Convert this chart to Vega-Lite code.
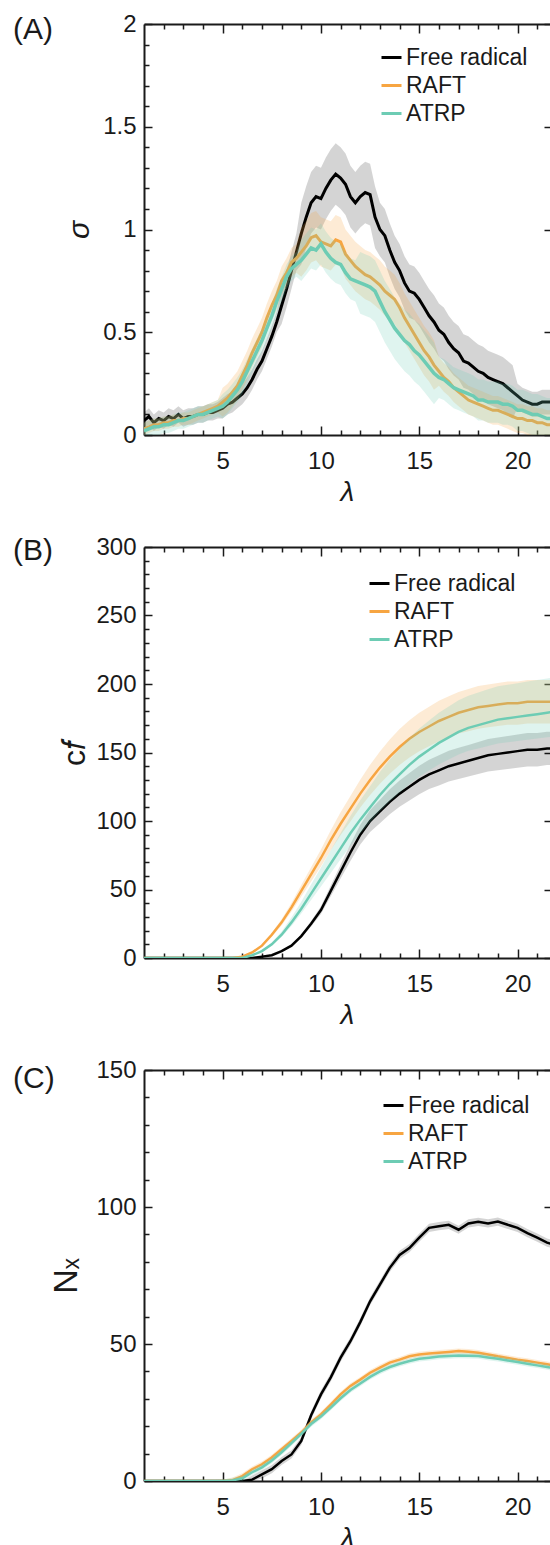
{
"$schema":"https://vega.github.io/schema/vega-lite/v6.json",
"autosize":{"type":"none"},
"padding":{"left":144,"top":24,"right":406,"bottom":1521},
"background":"white",
"spacing":112,
"bounds":"flush",
"config":{"view":{"stroke":null},"axis":{"grid":false},"font":"Liberation Sans"},
"resolve":{"scale":{"color":"independent"},"legend":{"color":"independent"}},
"datasets":{
"A":[
{"x":1,"f":0.07,"flo":0.03,"fhi":0.11,"r":0.03,"rlo":0,"rhi":0.06,"a":0.02,"alo":0,"ahi":0.06},
{"x":1.25,"f":0.09,"flo":0.05,"fhi":0.13,"r":0.04,"rlo":0.01,"rhi":0.07,"a":0.03,"alo":0,"ahi":0.07},
{"x":1.5,"f":0.06,"flo":0.02,"fhi":0.1,"r":0.05,"rlo":0.02,"rhi":0.08,"a":0.04,"alo":0,"ahi":0.08},
{"x":1.75,"f":0.08,"flo":0.04,"fhi":0.12,"r":0.05,"rlo":0.02,"rhi":0.08,"a":0.04,"alo":0,"ahi":0.08},
{"x":2,"f":0.07,"flo":0.03,"fhi":0.11,"r":0.06,"rlo":0.03,"rhi":0.09,"a":0.05,"alo":0.01,"ahi":0.09},
{"x":2.25,"f":0.09,"flo":0.05,"fhi":0.13,"r":0.06,"rlo":0.03,"rhi":0.09,"a":0.05,"alo":0.01,"ahi":0.09},
{"x":2.5,"f":0.08,"flo":0.04,"fhi":0.12,"r":0.07,"rlo":0.04,"rhi":0.1,"a":0.06,"alo":0.02,"ahi":0.1},
{"x":2.75,"f":0.1,"flo":0.06,"fhi":0.14,"r":0.07,"rlo":0.04,"rhi":0.1,"a":0.07,"alo":0.03,"ahi":0.11},
{"x":3,"f":0.08,"flo":0.04,"fhi":0.12,"r":0.08,"rlo":0.05,"rhi":0.11,"a":0.07,"alo":0.03,"ahi":0.11},
{"x":3.25,"f":0.09,"flo":0.05,"fhi":0.13,"r":0.08,"rlo":0.05,"rhi":0.11,"a":0.08,"alo":0.04,"ahi":0.12},
{"x":3.5,"f":0.09,"flo":0.05,"fhi":0.13,"r":0.09,"rlo":0.06,"rhi":0.12,"a":0.09,"alo":0.05,"ahi":0.13},
{"x":3.75,"f":0.1,"flo":0.06,"fhi":0.14,"r":0.1,"rlo":0.07,"rhi":0.13,"a":0.1,"alo":0.06,"ahi":0.14},
{"x":4,"f":0.1,"flo":0.06,"fhi":0.14,"r":0.11,"rlo":0.08,"rhi":0.14,"a":0.1,"alo":0.06,"ahi":0.14},
{"x":4.25,"f":0.11,"flo":0.07,"fhi":0.15,"r":0.12,"rlo":0.09,"rhi":0.15,"a":0.11,"alo":0.07,"ahi":0.15},
{"x":4.5,"f":0.11,"flo":0.07,"fhi":0.15,"r":0.13,"rlo":0.1,"rhi":0.16,"a":0.12,"alo":0.08,"ahi":0.16},
{"x":4.75,"f":0.12,"flo":0.08,"fhi":0.16,"r":0.14,"rlo":0.11,"rhi":0.17,"a":0.13,"alo":0.09,"ahi":0.17},
{"x":5,"f":0.13,"flo":0.08,"fhi":0.18,"r":0.16,"rlo":0.09,"rhi":0.23,"a":0.14,"alo":0.08,"ahi":0.2},
{"x":5.25,"f":0.15,"flo":0.1,"fhi":0.2,"r":0.18,"rlo":0.11,"rhi":0.25,"a":0.16,"alo":0.1,"ahi":0.22},
{"x":5.5,"f":0.16,"flo":0.11,"fhi":0.21,"r":0.21,"rlo":0.14,"rhi":0.28,"a":0.19,"alo":0.13,"ahi":0.25},
{"x":5.75,"f":0.18,"flo":0.13,"fhi":0.23,"r":0.24,"rlo":0.17,"rhi":0.31,"a":0.22,"alo":0.16,"ahi":0.28},
{"x":6,"f":0.2,"flo":0.15,"fhi":0.25,"r":0.29,"rlo":0.22,"rhi":0.36,"a":0.26,"alo":0.2,"ahi":0.32},
{"x":6.25,"f":0.23,"flo":0.18,"fhi":0.28,"r":0.34,"rlo":0.27,"rhi":0.41,"a":0.31,"alo":0.25,"ahi":0.37},
{"x":6.5,"f":0.27,"flo":0.22,"fhi":0.32,"r":0.4,"rlo":0.33,"rhi":0.47,"a":0.36,"alo":0.3,"ahi":0.42},
{"x":6.75,"f":0.32,"flo":0.27,"fhi":0.37,"r":0.45,"rlo":0.38,"rhi":0.52,"a":0.41,"alo":0.35,"ahi":0.47},
{"x":7,"f":0.36,"flo":0.31,"fhi":0.41,"r":0.5,"rlo":0.43,"rhi":0.57,"a":0.46,"alo":0.4,"ahi":0.52},
{"x":7.25,"f":0.42,"flo":0.37,"fhi":0.47,"r":0.57,"rlo":0.5,"rhi":0.64,"a":0.52,"alo":0.46,"ahi":0.58},
{"x":7.5,"f":0.48,"flo":0.43,"fhi":0.53,"r":0.63,"rlo":0.56,"rhi":0.7,"a":0.58,"alo":0.52,"ahi":0.64},
{"x":7.75,"f":0.55,"flo":0.5,"fhi":0.6,"r":0.68,"rlo":0.61,"rhi":0.75,"a":0.65,"alo":0.59,"ahi":0.71},
{"x":8,"f":0.63,"flo":0.54,"fhi":0.72,"r":0.75,"rlo":0.68,"rhi":0.82,"a":0.71,"alo":0.65,"ahi":0.77},
{"x":8.25,"f":0.71,"flo":0.62,"fhi":0.8,"r":0.79,"rlo":0.72,"rhi":0.86,"a":0.77,"alo":0.71,"ahi":0.83},
{"x":8.5,"f":0.8,"flo":0.71,"fhi":0.89,"r":0.84,"rlo":0.77,"rhi":0.91,"a":0.81,"alo":0.75,"ahi":0.87},
{"x":8.75,"f":0.89,"flo":0.8,"fhi":0.98,"r":0.86,"rlo":0.79,"rhi":0.93,"a":0.83,"alo":0.77,"ahi":0.89},
{"x":9,"f":0.98,"flo":0.83,"fhi":1.13,"r":0.89,"rlo":0.77,"rhi":1.01,"a":0.85,"alo":0.75,"ahi":0.95},
{"x":9.25,"f":1.06,"flo":0.91,"fhi":1.21,"r":0.92,"rlo":0.8,"rhi":1.04,"a":0.88,"alo":0.78,"ahi":0.98},
{"x":9.5,"f":1.13,"flo":0.98,"fhi":1.28,"r":0.96,"rlo":0.84,"rhi":1.08,"a":0.91,"alo":0.81,"ahi":1.01},
{"x":9.75,"f":1.16,"flo":1.01,"fhi":1.31,"r":0.97,"rlo":0.85,"rhi":1.09,"a":0.9,"alo":0.8,"ahi":1},
{"x":10,"f":1.15,"flo":1,"fhi":1.3,"r":0.94,"rlo":0.82,"rhi":1.06,"a":0.93,"alo":0.83,"ahi":1.03},
{"x":10.25,"f":1.2,"flo":1.05,"fhi":1.35,"r":0.93,"rlo":0.81,"rhi":1.05,"a":0.89,"alo":0.79,"ahi":0.99},
{"x":10.5,"f":1.24,"flo":1.09,"fhi":1.39,"r":0.92,"rlo":0.8,"rhi":1.04,"a":0.86,"alo":0.76,"ahi":0.96},
{"x":10.75,"f":1.27,"flo":1.12,"fhi":1.42,"r":0.95,"rlo":0.83,"rhi":1.07,"a":0.84,"alo":0.74,"ahi":0.94},
{"x":11,"f":1.25,"flo":1.1,"fhi":1.4,"r":0.94,"rlo":0.82,"rhi":1.06,"a":0.83,"alo":0.73,"ahi":0.93},
{"x":11.25,"f":1.22,"flo":1.07,"fhi":1.37,"r":0.88,"rlo":0.76,"rhi":1,"a":0.79,"alo":0.69,"ahi":0.89},
{"x":11.5,"f":1.16,"flo":1.01,"fhi":1.31,"r":0.85,"rlo":0.73,"rhi":0.97,"a":0.76,"alo":0.66,"ahi":0.86},
{"x":11.75,"f":1.13,"flo":0.98,"fhi":1.28,"r":0.82,"rlo":0.7,"rhi":0.94,"a":0.75,"alo":0.65,"ahi":0.85},
{"x":12,"f":1.16,"flo":1.01,"fhi":1.31,"r":0.8,"rlo":0.68,"rhi":0.92,"a":0.74,"alo":0.59,"ahi":0.89},
{"x":12.25,"f":1.18,"flo":1.03,"fhi":1.33,"r":0.78,"rlo":0.66,"rhi":0.9,"a":0.73,"alo":0.58,"ahi":0.88},
{"x":12.5,"f":1.17,"flo":1.02,"fhi":1.32,"r":0.77,"rlo":0.65,"rhi":0.89,"a":0.72,"alo":0.57,"ahi":0.87},
{"x":12.75,"f":1.06,"flo":0.91,"fhi":1.21,"r":0.75,"rlo":0.63,"rhi":0.87,"a":0.7,"alo":0.55,"ahi":0.85},
{"x":13,"f":1,"flo":0.87,"fhi":1.13,"r":0.73,"rlo":0.61,"rhi":0.85,"a":0.65,"alo":0.5,"ahi":0.8},
{"x":13.25,"f":0.97,"flo":0.84,"fhi":1.1,"r":0.7,"rlo":0.58,"rhi":0.82,"a":0.6,"alo":0.45,"ahi":0.75},
{"x":13.5,"f":0.9,"flo":0.77,"fhi":1.03,"r":0.68,"rlo":0.56,"rhi":0.8,"a":0.56,"alo":0.41,"ahi":0.71},
{"x":13.75,"f":0.84,"flo":0.71,"fhi":0.97,"r":0.66,"rlo":0.54,"rhi":0.78,"a":0.52,"alo":0.37,"ahi":0.67},
{"x":14,"f":0.8,"flo":0.67,"fhi":0.93,"r":0.62,"rlo":0.5,"rhi":0.74,"a":0.49,"alo":0.34,"ahi":0.64},
{"x":14.25,"f":0.74,"flo":0.61,"fhi":0.87,"r":0.57,"rlo":0.45,"rhi":0.69,"a":0.46,"alo":0.31,"ahi":0.61},
{"x":14.5,"f":0.7,"flo":0.57,"fhi":0.83,"r":0.53,"rlo":0.41,"rhi":0.65,"a":0.44,"alo":0.29,"ahi":0.59},
{"x":14.75,"f":0.69,"flo":0.56,"fhi":0.82,"r":0.49,"rlo":0.37,"rhi":0.61,"a":0.41,"alo":0.26,"ahi":0.56},
{"x":15,"f":0.66,"flo":0.53,"fhi":0.79,"r":0.45,"rlo":0.33,"rhi":0.57,"a":0.39,"alo":0.24,"ahi":0.54},
{"x":15.25,"f":0.62,"flo":0.49,"fhi":0.75,"r":0.41,"rlo":0.29,"rhi":0.53,"a":0.36,"alo":0.21,"ahi":0.51},
{"x":15.5,"f":0.58,"flo":0.45,"fhi":0.71,"r":0.38,"rlo":0.26,"rhi":0.5,"a":0.33,"alo":0.18,"ahi":0.48},
{"x":15.75,"f":0.55,"flo":0.42,"fhi":0.68,"r":0.34,"rlo":0.22,"rhi":0.46,"a":0.3,"alo":0.15,"ahi":0.45},
{"x":16,"f":0.51,"flo":0.38,"fhi":0.64,"r":0.31,"rlo":0.24,"rhi":0.38,"a":0.28,"alo":0.18,"ahi":0.38},
{"x":16.25,"f":0.49,"flo":0.36,"fhi":0.62,"r":0.28,"rlo":0.21,"rhi":0.35,"a":0.27,"alo":0.17,"ahi":0.37},
{"x":16.5,"f":0.45,"flo":0.32,"fhi":0.58,"r":0.26,"rlo":0.19,"rhi":0.33,"a":0.25,"alo":0.15,"ahi":0.35},
{"x":16.75,"f":0.42,"flo":0.29,"fhi":0.55,"r":0.23,"rlo":0.16,"rhi":0.3,"a":0.23,"alo":0.13,"ahi":0.33},
{"x":17,"f":0.4,"flo":0.27,"fhi":0.53,"r":0.21,"rlo":0.14,"rhi":0.28,"a":0.22,"alo":0.12,"ahi":0.32},
{"x":17.25,"f":0.36,"flo":0.23,"fhi":0.49,"r":0.19,"rlo":0.12,"rhi":0.26,"a":0.21,"alo":0.11,"ahi":0.31},
{"x":17.5,"f":0.35,"flo":0.22,"fhi":0.48,"r":0.17,"rlo":0.1,"rhi":0.24,"a":0.2,"alo":0.1,"ahi":0.3},
{"x":17.75,"f":0.33,"flo":0.2,"fhi":0.46,"r":0.16,"rlo":0.09,"rhi":0.23,"a":0.19,"alo":0.09,"ahi":0.29},
{"x":18,"f":0.31,"flo":0.18,"fhi":0.44,"r":0.15,"rlo":0.08,"rhi":0.22,"a":0.17,"alo":0.07,"ahi":0.27},
{"x":18.25,"f":0.3,"flo":0.17,"fhi":0.43,"r":0.14,"rlo":0.07,"rhi":0.21,"a":0.17,"alo":0.07,"ahi":0.27},
{"x":18.5,"f":0.28,"flo":0.15,"fhi":0.41,"r":0.13,"rlo":0.06,"rhi":0.2,"a":0.16,"alo":0.06,"ahi":0.26},
{"x":18.75,"f":0.27,"flo":0.14,"fhi":0.4,"r":0.12,"rlo":0.05,"rhi":0.19,"a":0.16,"alo":0.06,"ahi":0.26},
{"x":19,"f":0.26,"flo":0.13,"fhi":0.39,"r":0.12,"rlo":0.05,"rhi":0.19,"a":0.16,"alo":0.06,"ahi":0.26},
{"x":19.25,"f":0.25,"flo":0.12,"fhi":0.38,"r":0.11,"rlo":0.04,"rhi":0.18,"a":0.15,"alo":0.05,"ahi":0.25},
{"x":19.5,"f":0.23,"flo":0.1,"fhi":0.36,"r":0.1,"rlo":0.03,"rhi":0.17,"a":0.15,"alo":0.05,"ahi":0.25},
{"x":19.75,"f":0.21,"flo":0.08,"fhi":0.34,"r":0.09,"rlo":0.02,"rhi":0.16,"a":0.14,"alo":0.04,"ahi":0.24},
{"x":20,"f":0.19,"flo":0.13,"fhi":0.25,"r":0.08,"rlo":0.01,"rhi":0.15,"a":0.12,"alo":0.02,"ahi":0.22},
{"x":20.25,"f":0.17,"flo":0.11,"fhi":0.23,"r":0.08,"rlo":0.01,"rhi":0.15,"a":0.12,"alo":0.02,"ahi":0.22},
{"x":20.5,"f":0.16,"flo":0.1,"fhi":0.22,"r":0.07,"rlo":0,"rhi":0.14,"a":0.11,"alo":0.01,"ahi":0.21},
{"x":20.75,"f":0.15,"flo":0.09,"fhi":0.21,"r":0.07,"rlo":0,"rhi":0.14,"a":0.1,"alo":0,"ahi":0.2},
{"x":21,"f":0.15,"flo":0.09,"fhi":0.21,"r":0.06,"rlo":0,"rhi":0.13,"a":0.1,"alo":0,"ahi":0.2},
{"x":21.25,"f":0.16,"flo":0.1,"fhi":0.22,"r":0.06,"rlo":0,"rhi":0.13,"a":0.09,"alo":0,"ahi":0.19},
{"x":21.5,"f":0.16,"flo":0.1,"fhi":0.22,"r":0.05,"rlo":0,"rhi":0.12,"a":0.08,"alo":0,"ahi":0.18},
{"x":21.75,"f":0.16,"flo":0.1,"fhi":0.22,"r":0.05,"rlo":0,"rhi":0.12,"a":0.08,"alo":0,"ahi":0.18}
],
"B":[
{"x":1,"f":0,"flo":0,"fhi":0,"r":0,"rlo":0,"rhi":0,"a":0,"alo":0,"ahi":0},
{"x":3,"f":0,"flo":0,"fhi":0,"r":0,"rlo":0,"rhi":0,"a":0,"alo":0,"ahi":0},
{"x":5,"f":0,"flo":0,"fhi":0,"r":0,"rlo":0,"rhi":0,"a":0,"alo":0,"ahi":0},
{"x":5.5,"f":0,"flo":0,"fhi":0,"r":0,"rlo":0,"rhi":0,"a":0,"alo":0,"ahi":0},
{"x":6,"f":0,"flo":0,"fhi":0,"r":1,"rlo":0.9,"rhi":1.1,"a":0,"alo":0,"ahi":0},
{"x":6.5,"f":0,"flo":0,"fhi":0,"r":4,"rlo":3.7,"rhi":4.3,"a":2,"alo":1.8,"ahi":2.3},
{"x":7,"f":1,"flo":0.9,"fhi":1.1,"r":9,"rlo":8.2,"rhi":9.8,"a":5,"alo":4.5,"ahi":5.7},
{"x":7.5,"f":2,"flo":1.8,"fhi":2.2,"r":17,"rlo":15.6,"rhi":18.4,"a":10,"alo":9,"ahi":11.4},
{"x":8,"f":5,"flo":4.6,"fhi":5.4,"r":26,"rlo":23.8,"rhi":28.2,"a":17,"alo":15.3,"ahi":19.4},
{"x":8.5,"f":9,"flo":8.3,"fhi":9.7,"r":37,"rlo":33.9,"rhi":40.1,"a":26,"alo":23.4,"ahi":29.6},
{"x":9,"f":16,"flo":14.7,"fhi":17.3,"r":49,"rlo":44.8,"rhi":53.2,"a":36,"alo":32.4,"ahi":41},
{"x":9.5,"f":25,"flo":23,"fhi":27,"r":61,"rlo":55.8,"rhi":66.2,"a":47,"alo":42.3,"ahi":53.6},
{"x":10,"f":35,"flo":32.2,"fhi":37.8,"r":73,"rlo":66.8,"rhi":79.2,"a":58,"alo":52.2,"ahi":66.1},
{"x":10.5,"f":49,"flo":45.1,"fhi":52.9,"r":86,"rlo":78.7,"rhi":93.3,"a":69,"alo":62.1,"ahi":78.7},
{"x":11,"f":63,"flo":58,"fhi":68,"r":98,"rlo":89.7,"rhi":106.3,"a":80,"alo":72,"ahi":91.2},
{"x":11.5,"f":77,"flo":70.8,"fhi":83.2,"r":109,"rlo":99.7,"rhi":118.3,"a":91,"alo":81.9,"ahi":103.7},
{"x":12,"f":90,"flo":82.8,"fhi":97.2,"r":120,"rlo":109.8,"rhi":130.2,"a":101,"alo":90.9,"ahi":115.1},
{"x":12.5,"f":100,"flo":92,"fhi":108,"r":130,"rlo":119,"rhi":141,"a":110,"alo":99,"ahi":125.4},
{"x":13,"f":107,"flo":98.4,"fhi":115.6,"r":139,"rlo":127.2,"rhi":150.8,"a":119,"alo":107.1,"ahi":135.7},
{"x":13.5,"f":114,"flo":104.9,"fhi":123.1,"r":147,"rlo":134.5,"rhi":159.5,"a":127,"alo":114.3,"ahi":144.8},
{"x":14,"f":120,"flo":110.4,"fhi":129.6,"r":154,"rlo":140.9,"rhi":167.1,"a":134,"alo":120.6,"ahi":152.8},
{"x":14.5,"f":125,"flo":115,"fhi":135,"r":160,"rlo":146.4,"rhi":173.6,"a":141,"alo":126.9,"ahi":160.7},
{"x":15,"f":130,"flo":119.6,"fhi":140.4,"r":165,"rlo":151,"rhi":179,"a":147,"alo":132.3,"ahi":167.6},
{"x":15.5,"f":134,"flo":123.3,"fhi":144.7,"r":169,"rlo":154.6,"rhi":183.4,"a":152,"alo":136.8,"ahi":173.3},
{"x":16,"f":137,"flo":126,"fhi":148,"r":173,"rlo":158.3,"rhi":187.7,"a":157,"alo":141.3,"ahi":179},
{"x":16.5,"f":140,"flo":128.8,"fhi":151.2,"r":176,"rlo":161,"rhi":191,"a":161,"alo":144.9,"ahi":183.5},
{"x":17,"f":142,"flo":130.6,"fhi":153.4,"r":179,"rlo":163.8,"rhi":194.2,"a":165,"alo":148.5,"ahi":188.1},
{"x":17.5,"f":144,"flo":132.5,"fhi":155.5,"r":181,"rlo":165.6,"rhi":196.4,"a":168,"alo":151.2,"ahi":191.5},
{"x":18,"f":146,"flo":134.3,"fhi":157.7,"r":183,"rlo":167.4,"rhi":198.6,"a":170,"alo":153,"ahi":193.8},
{"x":18.5,"f":148,"flo":136.2,"fhi":159.8,"r":184,"rlo":168.4,"rhi":199.6,"a":172,"alo":154.8,"ahi":196.1},
{"x":19,"f":149,"flo":137.1,"fhi":160.9,"r":185,"rlo":169.3,"rhi":200.7,"a":174,"alo":156.6,"ahi":198.4},
{"x":19.5,"f":150,"flo":138,"fhi":162,"r":186,"rlo":170.2,"rhi":201.8,"a":175,"alo":157.5,"ahi":199.5},
{"x":20,"f":151,"flo":138.9,"fhi":163.1,"r":186,"rlo":170.2,"rhi":201.8,"a":176,"alo":158.4,"ahi":200.6},
{"x":20.5,"f":152,"flo":139.8,"fhi":164.2,"r":187,"rlo":171.1,"rhi":202.9,"a":177,"alo":159.3,"ahi":201.8},
{"x":21,"f":152,"flo":139.8,"fhi":164.2,"r":187,"rlo":171.1,"rhi":202.9,"a":178,"alo":160.2,"ahi":202.9},
{"x":21.5,"f":153,"flo":140.8,"fhi":165.2,"r":187,"rlo":171.1,"rhi":202.9,"a":179,"alo":161.1,"ahi":204.1},
{"x":22,"f":153,"flo":140.8,"fhi":165.2,"r":187,"rlo":171.1,"rhi":202.9,"a":180,"alo":162,"ahi":205.2}
],
"C":[
{"x":1,"f":0,"flo":0,"fhi":0,"r":0,"rlo":0,"rhi":0,"a":0,"alo":0,"ahi":0},
{"x":3,"f":0,"flo":0,"fhi":0,"r":0,"rlo":0,"rhi":0,"a":0,"alo":0,"ahi":0},
{"x":5,"f":0,"flo":0,"fhi":0,"r":0,"rlo":0,"rhi":0.5,"a":0,"alo":0,"ahi":0.5},
{"x":5.5,"f":0,"flo":0,"fhi":0,"r":0.3,"rlo":0,"rhi":1.3,"a":0.2,"alo":0,"ahi":1.2},
{"x":6,"f":0,"flo":0,"fhi":0,"r":1.8,"rlo":0.8,"rhi":2.8,"a":1,"alo":0,"ahi":2},
{"x":6.5,"f":0.5,"flo":0,"fhi":2,"r":4.3,"rlo":3.3,"rhi":5.3,"a":3.2,"alo":2.2,"ahi":4.2},
{"x":7,"f":2.4,"flo":0.9,"fhi":3.9,"r":6.1,"rlo":5.1,"rhi":7.1,"a":5,"alo":4,"ahi":6},
{"x":7.5,"f":4.3,"flo":2.8,"fhi":5.8,"r":8.6,"rlo":7.6,"rhi":9.6,"a":7.5,"alo":6.5,"ahi":8.5},
{"x":8,"f":7.3,"flo":5.8,"fhi":8.8,"r":11.6,"rlo":10.6,"rhi":12.6,"a":10.5,"alo":9.5,"ahi":11.5},
{"x":8.5,"f":9.7,"flo":8.2,"fhi":11.2,"r":14.6,"rlo":13.6,"rhi":15.6,"a":13.8,"alo":12.8,"ahi":14.8},
{"x":9,"f":14.6,"flo":13.1,"fhi":16.1,"r":17.7,"rlo":16.7,"rhi":18.7,"a":17.2,"alo":16.2,"ahi":18.2},
{"x":9.5,"f":24,"flo":22.5,"fhi":25.5,"r":21.4,"rlo":20.4,"rhi":22.4,"a":20.8,"alo":19.8,"ahi":21.8},
{"x":10,"f":31.6,"flo":30.1,"fhi":33.1,"r":24.3,"rlo":23.3,"rhi":25.3,"a":23.5,"alo":22.5,"ahi":24.5},
{"x":10.5,"f":37.8,"flo":36.3,"fhi":39.3,"r":27.9,"rlo":26.9,"rhi":28.9,"a":26.8,"alo":25.8,"ahi":27.8},
{"x":11,"f":45,"flo":43.5,"fhi":46.5,"r":31.6,"rlo":30.6,"rhi":32.6,"a":30.2,"alo":29.2,"ahi":31.2},
{"x":11.5,"f":51,"flo":49.5,"fhi":52.5,"r":34.7,"rlo":33.7,"rhi":35.7,"a":33.2,"alo":32.2,"ahi":34.2},
{"x":12,"f":58,"flo":56.5,"fhi":59.5,"r":37,"rlo":36,"rhi":38,"a":35.6,"alo":34.6,"ahi":36.6},
{"x":12.5,"f":65.6,"flo":64.1,"fhi":67.1,"r":39.5,"rlo":38.5,"rhi":40.5,"a":38,"alo":37,"ahi":39},
{"x":13,"f":71.7,"flo":70.2,"fhi":73.2,"r":41.4,"rlo":40.4,"rhi":42.4,"a":40,"alo":39,"ahi":41},
{"x":13.5,"f":77.8,"flo":76.3,"fhi":79.3,"r":43.2,"rlo":42.2,"rhi":44.2,"a":41.6,"alo":40.6,"ahi":42.6},
{"x":14,"f":82.5,"flo":81,"fhi":84,"r":44.3,"rlo":43.3,"rhi":45.3,"a":42.8,"alo":41.8,"ahi":43.8},
{"x":14.5,"f":85,"flo":83.5,"fhi":86.5,"r":45.5,"rlo":44.5,"rhi":46.5,"a":43.8,"alo":42.8,"ahi":44.8},
{"x":15,"f":88.8,"flo":87.3,"fhi":90.3,"r":46.2,"rlo":45.2,"rhi":47.2,"a":44.6,"alo":43.6,"ahi":45.6},
{"x":15.5,"f":92.4,"flo":90.9,"fhi":93.9,"r":46.5,"rlo":45.5,"rhi":47.5,"a":45,"alo":44,"ahi":46},
{"x":16,"f":93,"flo":91.5,"fhi":94.5,"r":46.8,"rlo":45.8,"rhi":47.8,"a":45.4,"alo":44.4,"ahi":46.4},
{"x":16.5,"f":93.5,"flo":92,"fhi":95,"r":47.1,"rlo":46.1,"rhi":48.1,"a":45.6,"alo":44.6,"ahi":46.6},
{"x":17,"f":91.7,"flo":90.2,"fhi":93.2,"r":47.4,"rlo":46.4,"rhi":48.4,"a":45.8,"alo":44.8,"ahi":46.8},
{"x":17.5,"f":94,"flo":92.5,"fhi":95.5,"r":47.2,"rlo":46.2,"rhi":48.2,"a":45.7,"alo":44.7,"ahi":46.7},
{"x":18,"f":94.6,"flo":93.1,"fhi":96.1,"r":46.8,"rlo":45.8,"rhi":47.8,"a":45.6,"alo":44.6,"ahi":46.6},
{"x":18.5,"f":94,"flo":92.5,"fhi":95.5,"r":46.2,"rlo":45.2,"rhi":47.2,"a":45.1,"alo":44.1,"ahi":46.1},
{"x":19,"f":94.7,"flo":93.2,"fhi":96.2,"r":45.5,"rlo":44.5,"rhi":46.5,"a":44.6,"alo":43.6,"ahi":45.6},
{"x":19.5,"f":93.5,"flo":92,"fhi":95,"r":44.9,"rlo":43.9,"rhi":45.9,"a":44,"alo":43,"ahi":45},
{"x":20,"f":92.4,"flo":90.9,"fhi":93.9,"r":44.3,"rlo":43.3,"rhi":45.3,"a":43.4,"alo":42.4,"ahi":44.4},
{"x":20.5,"f":90.5,"flo":89,"fhi":92,"r":43.8,"rlo":42.8,"rhi":44.8,"a":42.8,"alo":41.8,"ahi":43.8},
{"x":21,"f":88.8,"flo":87.3,"fhi":90.3,"r":43.2,"rlo":42.2,"rhi":44.2,"a":42.2,"alo":41.2,"ahi":43.2},
{"x":21.5,"f":87,"flo":85.5,"fhi":88.5,"r":42.6,"rlo":41.6,"rhi":43.6,"a":41.6,"alo":40.6,"ahi":42.6},
{"x":22,"f":86,"flo":84.5,"fhi":87.5,"r":42,"rlo":41,"rhi":43,"a":41,"alo":40,"ahi":42}
]
},
"vconcat":[
{
"title":{"text":"(A)","anchor":"start","frame":"group","orient":"top","offset":0,"dx":-131,"dy":57,"baseline":"alphabetic","fontSize":30,"fontWeight":"normal","font":"Liberation Sans","color":"#1a1a1a"},
"width":406,"height":411,
"data":{"name":"A"},
"layer":[
{"mark":{"type":"area","color":"#000000","opacity":0.17,"clip":true},
"encoding":{
"x":{"field":"x","type":"quantitative","scale":{"domain":[1,21.65],"nice":false,"zero":false},"axis":{"orient":"bottom","values":[5,10,15,20],"ticks":false,"domain":true,"domainColor":"#1a1a1a","domainWidth":2,"labelFont":"Liberation Sans","labelFontSize":24,"labelColor":"#1a1a1a","labelPadding":14,"labelFlush":false,"title":"λ","titleFont":"Liberation Sans","titleFontSize":28,"titleFontStyle":"italic","titleFontWeight":"normal","titleColor":"#1a1a1a","titlePadding":5,"grid":false}},
"y":{"field":"flo","type":"quantitative","scale":{"domain":[0,2],"nice":false,"zero":false},"axis":{"orient":"left","values":[0,0.5,1,1.5,2],"format":"~g","ticks":false,"domain":true,"domainColor":"#1a1a1a","domainWidth":2,"labelFont":"Liberation Sans","labelFontSize":24,"labelColor":"#1a1a1a","labelPadding":8,"labelFlush":false,"title":"σ","titleFont":"Liberation Sans","titleFontSize":30,"titleFontStyle":"italic","titleFontWeight":"normal","titleColor":"#1a1a1a","titlePadding":8,"grid":false}},
"y2":{"field":"fhi"}}},
{"mark":{"type":"line","strokeWidth":3,"clip":true},
"encoding":{
"x":{"field":"x","type":"quantitative","axis":{"orient":"bottom","values":[5,10,15,20],"labels":false,"domain":false,"tickSize":-9,"tickWidth":1.5,"tickColor":"#1a1a1a","title":null,"grid":false}},
"y":{"field":"f","type":"quantitative","axis":{"orient":"left","values":[0,0.5,1,1.5,2],"labels":false,"domain":false,"tickSize":-8,"tickWidth":1.5,"tickColor":"#1a1a1a","title":null,"grid":false}},
"color":{"datum":"Free radical","type":"nominal","scale":{"domain":["Free radical","RAFT","ATRP"],"range":["#000000","#F7A541","#6DCCB4"]},"legend":{"orient":"none","legendX":236,"legendY":22,"title":null,"symbolType":"stroke","symbolSize":400,"symbolStrokeWidth":3,"labelFont":"Liberation Sans","labelFontSize":23,"labelColor":"#1a1a1a","labelOffset":3,"rowPadding":4,"padding":0}}}},
{"mark":{"type":"area","color":"#F7A541","opacity":0.22,"clip":true},
"encoding":{
"x":{"field":"x","type":"quantitative","axis":{"orient":"bottom","values":[2,3,4,6,7,8,9,11,12,13,14,16,17,18,19,21],"labels":false,"domain":false,"tickSize":-5,"tickWidth":1.5,"tickColor":"#1a1a1a","title":null,"grid":false}},
"y":{"field":"rlo","type":"quantitative","axis":{"orient":"left","values":[0.1,0.2,0.3,0.4,0.6,0.7,0.8,0.9,1.1,1.2,1.3,1.4,1.6,1.7,1.8,1.9],"labels":false,"domain":false,"tickSize":-5,"tickWidth":1.5,"tickColor":"#1a1a1a","title":null,"grid":false}},
"y2":{"field":"rhi"}}},
{"mark":{"type":"line","strokeWidth":3,"clip":true},
"encoding":{
"x":{"field":"x","type":"quantitative","axis":{"orient":"top","values":[5,10,15,20],"labels":false,"domain":true,"domainColor":"#1a1a1a","domainWidth":2,"tickSize":-9,"tickWidth":1.5,"tickColor":"#1a1a1a","title":null,"grid":false}},
"y":{"field":"r","type":"quantitative","axis":{"orient":"right","values":[0,0.5,1,1.5,2],"labels":false,"domain":false,"tickSize":-6,"tickWidth":1.5,"tickColor":"#1a1a1a","title":null,"grid":false}},
"color":{"datum":"RAFT","type":"nominal"}}},
{"mark":{"type":"area","color":"#6DCCB4","opacity":0.22,"clip":true},
"encoding":{
"x":{"field":"x","type":"quantitative","axis":{"orient":"top","values":[2,3,4,6,7,8,9,11,12,13,14,16,17,18,19,21],"labels":false,"domain":false,"tickSize":-5,"tickWidth":1.5,"tickColor":"#1a1a1a","title":null,"grid":false}},
"y":{"field":"alo","type":"quantitative","axis":null},
"y2":{"field":"ahi"}}},
{"mark":{"type":"line","strokeWidth":3.5,"clip":true},
"encoding":{
"x":{"field":"x","type":"quantitative","axis":null},
"y":{"field":"a","type":"quantitative","axis":null},
"color":{"datum":"ATRP","type":"nominal"}}}
],
"resolve":{"axis":{"x":"independent","y":"independent"}}
},
{
"title":{"text":"(B)","anchor":"start","frame":"group","orient":"top","offset":0,"dx":-131,"dy":55,"baseline":"alphabetic","fontSize":30,"fontWeight":"normal","font":"Liberation Sans","color":"#1a1a1a"},
"width":406,"height":411,
"data":{"name":"B"},
"layer":[
{"mark":{"type":"area","color":"#000000","opacity":0.17,"clip":true},
"encoding":{
"x":{"field":"x","type":"quantitative","scale":{"domain":[1,21.65],"nice":false,"zero":false},"axis":{"orient":"bottom","values":[5,10,15,20],"ticks":false,"domain":true,"domainColor":"#1a1a1a","domainWidth":2,"labelFont":"Liberation Sans","labelFontSize":24,"labelColor":"#1a1a1a","labelPadding":14,"labelFlush":false,"title":"λ","titleFont":"Liberation Sans","titleFontSize":28,"titleFontStyle":"italic","titleFontWeight":"normal","titleColor":"#1a1a1a","titlePadding":5,"grid":false}},
"y":{"field":"flo","type":"quantitative","scale":{"domain":[0,300],"nice":false,"zero":false},"axis":{"orient":"left","values":[0,50,100,150,200,250,300],"ticks":false,"domain":true,"domainColor":"#1a1a1a","domainWidth":2,"labelFont":"Liberation Sans","labelFontSize":24,"labelColor":"#1a1a1a","labelPadding":8,"labelFlush":false,"title":"c𝑓","titleFont":"Liberation Sans","titleFontSize":32,"titleFontWeight":"normal","titleColor":"#1a1a1a","titlePadding":4,"grid":false}},
"y2":{"field":"fhi"}}},
{"mark":{"type":"line","strokeWidth":2.5,"clip":true},
"encoding":{
"x":{"field":"x","type":"quantitative","axis":{"orient":"bottom","values":[5,10,15,20],"labels":false,"domain":false,"tickSize":-9,"tickWidth":1.5,"tickColor":"#1a1a1a","title":null,"grid":false}},
"y":{"field":"f","type":"quantitative","axis":{"orient":"left","values":[0,50,100,150,200,250,300],"labels":false,"domain":false,"tickSize":-8,"tickWidth":1.5,"tickColor":"#1a1a1a","title":null,"grid":false}},
"color":{"datum":"Free radical","type":"nominal","scale":{"domain":["Free radical","RAFT","ATRP"],"range":["#000000","#F7A541","#6DCCB4"]},"legend":{"orient":"none","legendX":224,"legendY":25,"title":null,"symbolType":"stroke","symbolSize":400,"symbolStrokeWidth":3,"labelFont":"Liberation Sans","labelFontSize":23,"labelColor":"#1a1a1a","labelOffset":3,"rowPadding":4,"padding":0}}}},
{"mark":{"type":"area","color":"#F7A541","opacity":0.22,"clip":true},
"encoding":{
"x":{"field":"x","type":"quantitative","axis":{"orient":"bottom","values":[2,3,4,6,7,8,9,11,12,13,14,16,17,18,19,21],"labels":false,"domain":false,"tickSize":-5,"tickWidth":1.5,"tickColor":"#1a1a1a","title":null,"grid":false}},
"y":{"field":"rlo","type":"quantitative","axis":{"orient":"left","values":[10,20,30,40,60,70,80,90,110,120,130,140,160,170,180,190,210,220,230,240,260,270,280,290],"labels":false,"domain":false,"tickSize":-5,"tickWidth":1.5,"tickColor":"#1a1a1a","title":null,"grid":false}},
"y2":{"field":"rhi"}}},
{"mark":{"type":"line","strokeWidth":2.5,"clip":true},
"encoding":{
"x":{"field":"x","type":"quantitative","axis":{"orient":"top","values":[5,10,15,20],"labels":false,"domain":true,"domainColor":"#1a1a1a","domainWidth":2,"tickSize":-9,"tickWidth":1.5,"tickColor":"#1a1a1a","title":null,"grid":false}},
"y":{"field":"r","type":"quantitative","axis":{"orient":"right","values":[0,50,100,150,200,250,300],"labels":false,"domain":false,"tickSize":-6,"tickWidth":1.5,"tickColor":"#1a1a1a","title":null,"grid":false}},
"color":{"datum":"RAFT","type":"nominal"}}},
{"mark":{"type":"area","color":"#6DCCB4","opacity":0.22,"clip":true},
"encoding":{
"x":{"field":"x","type":"quantitative","axis":{"orient":"top","values":[2,3,4,6,7,8,9,11,12,13,14,16,17,18,19,21],"labels":false,"domain":false,"tickSize":-5,"tickWidth":1.5,"tickColor":"#1a1a1a","title":null,"grid":false}},
"y":{"field":"alo","type":"quantitative","axis":null},
"y2":{"field":"ahi"}}},
{"mark":{"type":"line","strokeWidth":2.5,"clip":true},
"encoding":{
"x":{"field":"x","type":"quantitative","axis":null},
"y":{"field":"a","type":"quantitative","axis":null},
"color":{"datum":"ATRP","type":"nominal"}}}
],
"resolve":{"axis":{"x":"independent","y":"independent"}}
},
{
"title":{"text":"(C)","anchor":"start","frame":"group","orient":"top","offset":0,"dx":-131,"dy":60,"baseline":"alphabetic","fontSize":30,"fontWeight":"normal","font":"Liberation Sans","color":"#1a1a1a"},
"width":406,"height":411,
"data":{"name":"C"},
"layer":[
{"mark":{"type":"area","color":"#000000","opacity":0.17,"clip":true},
"encoding":{
"x":{"field":"x","type":"quantitative","scale":{"domain":[1,21.65],"nice":false,"zero":false},"axis":{"orient":"bottom","values":[5,10,15,20],"ticks":false,"domain":true,"domainColor":"#1a1a1a","domainWidth":2,"labelFont":"Liberation Sans","labelFontSize":24,"labelColor":"#1a1a1a","labelPadding":14,"labelFlush":false,"title":"λ","titleFont":"Liberation Sans","titleFontSize":28,"titleFontStyle":"italic","titleFontWeight":"normal","titleColor":"#1a1a1a","titlePadding":5,"grid":false}},
"y":{"field":"flo","type":"quantitative","scale":{"domain":[0,150],"nice":false,"zero":false},"axis":{"orient":"left","values":[0,50,100,150],"ticks":false,"domain":true,"domainColor":"#1a1a1a","domainWidth":2,"labelFont":"Liberation Sans","labelFontSize":24,"labelColor":"#1a1a1a","labelPadding":8,"labelFlush":false,"title":"Nₓ","titleFont":"Liberation Sans","titleFontSize":34,"titleFontWeight":"normal","titleColor":"#1a1a1a","titlePadding":12,"grid":false}},
"y2":{"field":"fhi"}}},
{"mark":{"type":"line","strokeWidth":2.5,"clip":true},
"encoding":{
"x":{"field":"x","type":"quantitative","axis":{"orient":"bottom","values":[5,10,15,20],"labels":false,"domain":false,"tickSize":-9,"tickWidth":1.5,"tickColor":"#1a1a1a","title":null,"grid":false}},
"y":{"field":"f","type":"quantitative","axis":{"orient":"left","values":[0,50,100,150],"labels":false,"domain":false,"tickSize":-8,"tickWidth":1.5,"tickColor":"#1a1a1a","title":null,"grid":false}},
"color":{"datum":"Free radical","type":"nominal","scale":{"domain":["Free radical","RAFT","ATRP"],"range":["#000000","#F7A541","#6DCCB4"]},"legend":{"orient":"none","legendX":238,"legendY":24,"title":null,"symbolType":"stroke","symbolSize":400,"symbolStrokeWidth":3,"labelFont":"Liberation Sans","labelFontSize":23,"labelColor":"#1a1a1a","labelOffset":3,"rowPadding":4,"padding":0}}}},
{"mark":{"type":"area","color":"#F7A541","opacity":0.22,"clip":true},
"encoding":{
"x":{"field":"x","type":"quantitative","axis":{"orient":"bottom","values":[2,3,4,6,7,8,9,11,12,13,14,16,17,18,19,21],"labels":false,"domain":false,"tickSize":-5,"tickWidth":1.5,"tickColor":"#1a1a1a","title":null,"grid":false}},
"y":{"field":"rlo","type":"quantitative","axis":{"orient":"left","values":[10,20,30,40,60,70,80,90,110,120,130,140],"labels":false,"domain":false,"tickSize":-5,"tickWidth":1.5,"tickColor":"#1a1a1a","title":null,"grid":false}},
"y2":{"field":"rhi"}}},
{"mark":{"type":"line","strokeWidth":2.5,"clip":true},
"encoding":{
"x":{"field":"x","type":"quantitative","axis":{"orient":"top","values":[5,10,15,20],"labels":false,"domain":true,"domainColor":"#1a1a1a","domainWidth":2,"tickSize":-9,"tickWidth":1.5,"tickColor":"#1a1a1a","title":null,"grid":false}},
"y":{"field":"r","type":"quantitative","axis":{"orient":"right","values":[0,50,100,150],"labels":false,"domain":false,"tickSize":-6,"tickWidth":1.5,"tickColor":"#1a1a1a","title":null,"grid":false}},
"color":{"datum":"RAFT","type":"nominal"}}},
{"mark":{"type":"area","color":"#6DCCB4","opacity":0.22,"clip":true},
"encoding":{
"x":{"field":"x","type":"quantitative","axis":{"orient":"top","values":[2,3,4,6,7,8,9,11,12,13,14,16,17,18,19,21],"labels":false,"domain":false,"tickSize":-5,"tickWidth":1.5,"tickColor":"#1a1a1a","title":null,"grid":false}},
"y":{"field":"alo","type":"quantitative","axis":null},
"y2":{"field":"ahi"}}},
{"mark":{"type":"line","strokeWidth":2.5,"clip":true},
"encoding":{
"x":{"field":"x","type":"quantitative","axis":null},
"y":{"field":"a","type":"quantitative","axis":null},
"color":{"datum":"ATRP","type":"nominal"}}}
],
"resolve":{"axis":{"x":"independent","y":"independent"}}
}
]
}
